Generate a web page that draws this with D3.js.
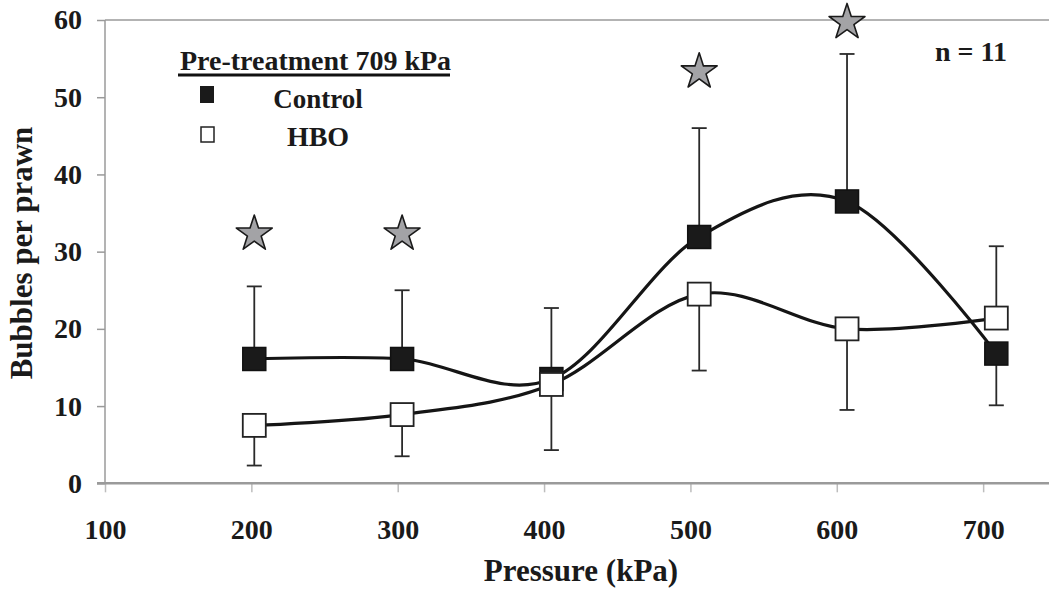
<!DOCTYPE html>
<html><head><meta charset="utf-8">
<script src="https://cdn.jsdelivr.net/npm/d3@7"></script>
<style>
body{margin:0;background:#fff}
svg{display:block}
text{font-family:"Liberation Serif","Times New Roman",serif;font-weight:bold;fill:#1a1a1a}
</style>
</head><body><svg id="c" width="1049" height="593"></svg>
<script>
// ---- data ----
const pressure = [202, 303, 405, 506, 607, 709];
const controlMean = [16.1, 16.1, 13.5, 31.9, 36.5, 16.8];
const controlErrEnd = [25.5, 25.0, 22.7, 46.0, 55.6, 10.1];
const hboMean = [7.5, 8.9, 12.8, 24.5, 20.0, 21.4];
const hboErrEnd = [2.3, 3.5, 4.3, 14.6, 9.5, 30.7];
const starPressure = [202, 303, 506, 607];
const starValue = [32.3, 32.3, 53.3, 59.7];
const xTicks = [100, 200, 300, 400, 500, 600, 700];
const yTicks = [0, 10, 20, 30, 40, 50, 60];
const legendTitle = "Pre-treatment 709 kPa";
const seriesNames = ["Control", "HBO"];

// ---- scales ----
const svg = d3.select("#c");
const x = d3.scaleLinear().domain([100, 745]).range([105, 1049]);
const y = d3.scaleLinear().domain([0, 60]).range([483.3, 20]);
const axisGray = "#9a9a9a";

// frame lines
svg.append("line").attr("x1", x(100)).attr("x2", 1049).attr("y1", y(60)).attr("y2", y(60))
  .attr("stroke", axisGray).attr("stroke-width", 1.5);
svg.append("line").attr("x1", x(100)).attr("x2", x(100)).attr("y1", y(60)).attr("y2", y(0))
  .attr("stroke", axisGray).attr("stroke-width", 1.5);

// y axis
const yAxis = svg.append("g").attr("transform", `translate(${x(100)},0)`)
  .call(d3.axisLeft(y).tickValues(yTicks).tickSize(8).tickPadding(15).tickFormat(d3.format("d")));
yAxis.select(".domain").remove();
yAxis.selectAll(".tick line").attr("stroke", axisGray).attr("stroke-width", 1.5);
yAxis.selectAll(".tick text").style("font-size", "28px").attr("fill", "#1a1a1a")
  .style("font-family", '"Liberation Serif","Times New Roman",serif').style("font-weight", "bold");

// x axis
const xAxis = svg.append("g").attr("transform", `translate(0,${y(0)})`)
  .call(d3.axisBottom(x).tickValues(xTicks).tickSize(9).tickPadding(27).tickFormat(d3.format("d")));
xAxis.select(".domain").remove();
xAxis.selectAll(".tick line").attr("stroke", "#bdbdbd").attr("stroke-width", 1.5);
xAxis.selectAll(".tick text").style("font-size", "28px").attr("fill", "#1a1a1a")
  .style("font-family", '"Liberation Serif","Times New Roman",serif').style("font-weight", "bold");
svg.append("line").attr("x1", x(100) - 8).attr("x2", 1049).attr("y1", y(0)).attr("y2", y(0))
  .attr("stroke", axisGray).attr("stroke-width", 2.5);

// axis titles
svg.append("text").attr("transform", `translate(32,253) rotate(-90)`).attr("text-anchor", "middle")
  .style("font-size", "31px").text("Bubbles per prawn");
svg.append("text").attr("x", 581).attr("y", 581).attr("text-anchor", "middle")
  .style("font-size", "31px").text("Pressure (kPa)");

// error bars
const capW = 7.5;
function errBars(means, ends) {
  const g = svg.append("g").attr("stroke", "#2a2a2a").attr("stroke-width", 1.8);
  pressure.forEach((p, i) => {
    g.append("line").attr("x1", x(p)).attr("x2", x(p)).attr("y1", y(means[i])).attr("y2", y(ends[i]));
    g.append("line").attr("x1", x(p) - capW).attr("x2", x(p) + capW).attr("y1", y(ends[i])).attr("y2", y(ends[i]));
  });
}
errBars(controlMean, controlErrEnd);
errBars(hboMean, hboErrEnd);

// lines
const line = d3.line().x((d, i) => x(pressure[i])).y(d => y(d)).curve(d3.curveCatmullRom.alpha(0));
svg.append("path").attr("d", line(controlMean)).attr("fill", "none").attr("stroke", "#151515").attr("stroke-width", 3.2);
svg.append("path").attr("d", line(hboMean)).attr("fill", "none").attr("stroke", "#151515").attr("stroke-width", 3.2);

// markers
const ms = 23;
svg.append("g").selectAll("rect").data(controlMean).join("rect")
  .attr("x", (d, i) => x(pressure[i]) - ms / 2).attr("y", d => y(d) - ms / 2)
  .attr("width", ms).attr("height", ms).attr("fill", "#1a1a1a").attr("stroke", "#111").attr("stroke-width", 1.5);
svg.append("g").selectAll("rect").data(hboMean).join("rect")
  .attr("x", (d, i) => x(pressure[i]) - ms / 2).attr("y", d => y(d) - ms / 2)
  .attr("width", ms).attr("height", ms).attr("fill", "#fff").attr("stroke", "#222").attr("stroke-width", 1.8);

// stars
const star = d3.symbol().type(d3.symbolStar).size(400);
svg.append("g").selectAll("path").data(starValue).join("path")
  .attr("d", star).attr("transform", (d, i) => `translate(${x(starPressure[i])},${y(d)})`)
  .attr("fill", "#a3a3a6").attr("stroke", "#1a1a1a").attr("stroke-width", 1.6).attr("stroke-linejoin", "round");

// legend
svg.append("text").attr("x", 180).attr("y", 70).style("font-size", "28px").text(legendTitle);
svg.append("line").attr("x1", 178).attr("x2", 450).attr("y1", 75).attr("y2", 75).attr("stroke", "#111").attr("stroke-width", 3);
svg.append("rect").attr("x", 200).attr("y", 86).attr("width", 14).attr("height", 17).attr("fill", "#1a1a1a");
svg.append("rect").attr("x", 201).attr("y", 127).attr("width", 13).attr("height", 15).attr("fill", "#fff").attr("stroke", "#222").attr("stroke-width", 1.5);
svg.append("text").attr("x", 318).attr("y", 108).attr("text-anchor", "middle").style("font-size", "27px").text(seriesNames[0]);
svg.append("text").attr("x", 318).attr("y", 146).attr("text-anchor", "middle").style("font-size", "28px").text(seriesNames[1]);

// n label
svg.append("text").attr("x", 971).attr("y", 61).attr("text-anchor", "middle").style("font-size", "28px").text("n = 11");
</script>
</body></html>
